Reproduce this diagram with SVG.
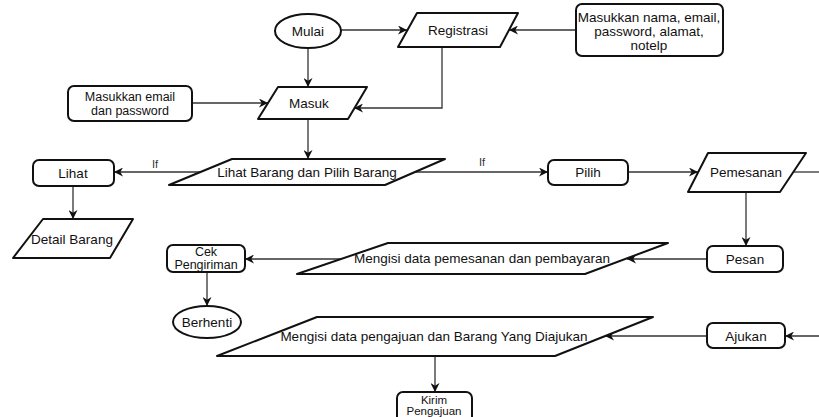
<svg xmlns="http://www.w3.org/2000/svg" width="819" height="417" viewBox="0 0 819 417">
<style>
.s{fill:#fff;stroke:#111;stroke-width:2;stroke-linejoin:round}
.t{font-family:"Liberation Sans",Arial,sans-serif;font-size:13.5px;fill:#111;text-anchor:middle;dominant-baseline:central}
.m{font-size:12.5px}
.k{font-size:11.5px}
.c{fill:none;stroke:#333;stroke-width:1.3}
.l{font-family:"Liberation Sans",Arial,sans-serif;font-size:11px;fill:#333;text-anchor:middle}
</style>
<defs>
<marker id="a" viewBox="0 0 10 10" refX="10" refY="5" markerWidth="9" markerHeight="9" markerUnits="userSpaceOnUse" orient="auto">
<path d="M0,0 L10,5 L0,10 L3,5 z" fill="#111"/>
</marker>
</defs>
<rect width="819" height="417" fill="#fff"/>
<g id="connectors">
<path class="c" d="M341,30 H407" marker-end="url(#a)"/>
<path class="c" d="M576,30 H509" marker-end="url(#a)"/>
<path class="c" d="M308,48 V87" marker-end="url(#a)"/>
<path class="c" d="M442,47 V108 H354" marker-end="url(#a)"/>
<path class="c" d="M192,103 H268" marker-end="url(#a)"/>
<path class="c" d="M308,119 V159" marker-end="url(#a)"/>
<path class="c" d="M200,172 H114" marker-end="url(#a)"/>
<path class="c" d="M415,172 H548" marker-end="url(#a)"/>
<path class="c" d="M73,186 V219" marker-end="url(#a)"/>
<path class="c" d="M628,172 H698" marker-end="url(#a)"/>
<path class="c" d="M746,192 V246" marker-end="url(#a)"/>
<path class="c" d="M793,172 H819"/>
<path class="c" d="M707,259 H627" marker-end="url(#a)"/>
<path class="c" d="M343,259 H245" marker-end="url(#a)"/>
<path class="c" d="M207,272 V306" marker-end="url(#a)"/>
<path class="c" d="M819,336 H785" marker-end="url(#a)"/>
<path class="c" d="M707,336 H605" marker-end="url(#a)"/>
<path class="c" d="M435,356 V392" marker-end="url(#a)"/>
<text class="l" x="155" y="168">If</text>
<text class="l" x="482" y="166">If</text>
</g>
<g id="mulai"><ellipse class="s" cx="308" cy="31" rx="33" ry="17"/><text class="t" x="308" y="31">Mulai</text></g>
<g id="registrasi"><path class="s" d="M417,13 H518 L500,47 H398 Z"/><text class="t" x="458" y="30">Registrasi</text></g>
<g id="input-registrasi"><rect class="s" x="576" y="4" width="147" height="52" rx="6"/><text class="t" x="649" y="17">Masukkan nama, email,</text><text class="t" x="649" y="31">password, alamat,</text><text class="t" x="649" y="45">notelp</text></g>
<g id="input-login"><rect class="s" x="68" y="86" width="124" height="35" rx="6"/><text class="t m" x="130" y="96.5">Masukkan email</text><text class="t m" x="130" y="110.5">dan password</text></g>
<g id="masuk"><path class="s" d="M278,87 H367 L348,119 H258 Z"/><text class="t" x="309" y="103">Masuk</text></g>
<g id="lihat-barang"><path class="s" d="M232,159 H445 L385,185 H169 Z"/><text class="t" x="307" y="172">Lihat Barang dan Pilih Barang</text></g>
<g id="lihat"><rect class="s" x="33" y="160" width="81" height="26" rx="6"/><text class="t" x="73" y="173">Lihat</text></g>
<g id="detail-barang"><path class="s" d="M43,219 H133 L110,258 H13 Z"/><text class="t" x="72" y="239">Detail Barang</text></g>
<g id="pilih"><rect class="s" x="548" y="160" width="80" height="25" rx="6"/><text class="t" x="588" y="172">Pilih</text></g>
<g id="pemesanan"><path class="s" d="M708,153 H806 L780,192 H688 Z"/><text class="t" x="746" y="172">Pemesanan</text></g>
<g id="pesan"><rect class="s" x="707" y="246" width="76" height="26" rx="6"/><text class="t" x="745" y="259">Pesan</text></g>
<g id="mengisi-pemesanan"><path class="s" d="M388,243 H668 L585,274 H297 Z"/><text class="t" x="482" y="258">Mengisi data pemesanan dan pembayaran</text></g>
<g id="cek-pengiriman"><rect class="s" x="167" y="245" width="78" height="27" rx="6"/><text class="t m" x="206" y="251.5">Cek</text><text class="t m" x="206" y="265">Pengiriman</text></g>
<g id="berhenti"><ellipse class="s" cx="207" cy="322" rx="34" ry="16"/><text class="t" x="207" y="322">Berhenti</text></g>
<g id="ajukan"><rect class="s" x="707" y="323" width="78" height="25" rx="6"/><text class="t" x="746" y="336">Ajukan</text></g>
<g id="mengisi-pengajuan"><path class="s" d="M317,317 H653 L555,356 H217 Z"/><text class="t" x="434" y="336">Mengisi data pengajuan dan Barang Yang Diajukan</text></g>
<g id="kirim-pengajuan"><rect class="s" x="397" y="392" width="75" height="32" rx="6"/><text class="t k" x="434" y="399.5">Kirim</text><text class="t k" x="434" y="410.5">Pengajuan</text></g>
</svg>
